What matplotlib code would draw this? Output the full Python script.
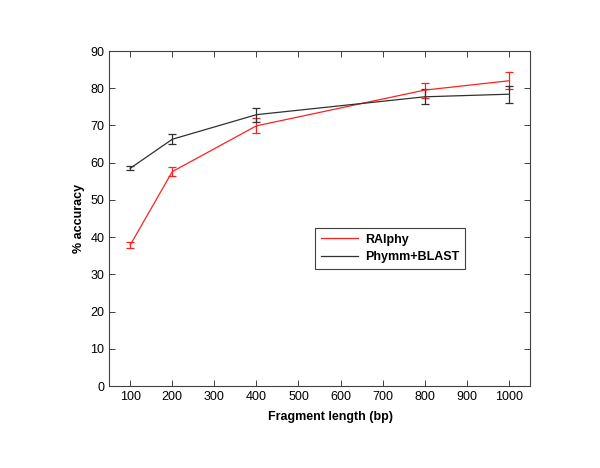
import matplotlib
matplotlib.use("Agg")
import matplotlib.pyplot as plt
from matplotlib.lines import Line2D

plt.rcParams["font.family"] = ["Liberation Sans", "DejaVu Sans"]

fragment_length = [100, 200, 400, 800, 1000]
ralphy_acc = [37.9, 57.6, 69.9, 79.5, 82.0]
ralphy_err = [0.9, 1.25, 2.0, 2.0, 2.25]
phymm_acc = [58.5, 66.3, 72.9, 77.7, 78.4]
phymm_err = [0.55, 1.4, 1.9, 2.0, 2.25]

red = "#ff2020"
dark = "#303030"

fig = plt.figure(figsize=(6, 4.68), dpi=100)
ax = fig.add_axes([0.182, 0.175, 0.701, 0.716])

ax.errorbar(fragment_length, ralphy_acc, yerr=ralphy_err, color=red,
            linewidth=0.9, elinewidth=0.9, capsize=3, capthick=0.9)
ax.errorbar(fragment_length, phymm_acc, yerr=phymm_err, color=dark,
            linewidth=0.9, elinewidth=0.9, capsize=3, capthick=0.9)

ax.set_xlim(50, 1050)
ax.set_ylim(0, 90)
ax.set_xticks(range(100, 1001, 100))
ax.set_yticks(range(0, 91, 10))
ax.tick_params(direction="in", top=True, right=True, length=4, width=0.7,
               labelsize=9, colors="#404040", labelcolor="black")
for spine in ax.spines.values():
    spine.set_linewidth(0.8)
    spine.set_color("#404040")

ax.set_xlabel("Fragment length (bp)", fontsize=9, fontweight="bold")
ax.xaxis.set_label_coords(0.525, -0.075)
ax.set_ylabel("% accuracy", fontsize=9, fontweight="bold")

handles = [Line2D([], [], color=red, linewidth=0.9),
           Line2D([], [], color=dark, linewidth=0.9)]
leg = ax.legend(handles, ["RAlphy", "Phymm+BLAST"], loc="lower left",
                bbox_to_anchor=(0.49, 0.35), prop={"weight": "bold", "size": 9},
                fancybox=False, edgecolor="#404040", framealpha=1,
                handlelength=3.0, handletextpad=0.5, borderpad=0.45,
                labelspacing=0.45, borderaxespad=0)
leg.get_frame().set_linewidth(0.8)

fig.savefig("out.png", dpi=100)
